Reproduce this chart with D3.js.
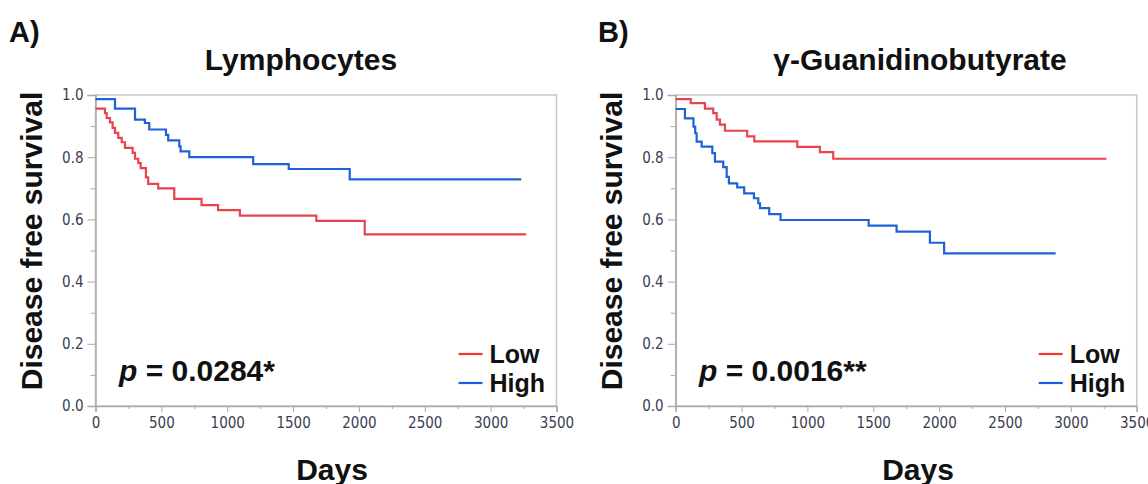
<!DOCTYPE html>
<html>
<head>
<meta charset="utf-8">
<script src="https://cdn.jsdelivr.net/npm/d3@7"></script>
<style>
    body { margin: 0; background: #fff; }
    .tick text { font-family: "DejaVu Sans Condensed", "DejaVu Sans", sans-serif; font-size: 15px; fill: #3a3d52; }
    .bold { font-family: "Liberation Sans", Arial, sans-serif; font-weight: bold; fill: #111; }
</style>
</head>
<body>
<div id="chart"></div>
<script>
// Kaplan-Meier steps: time of each step (days) and survival after it
var lymphLowDays  = [0, 72, 85, 110, 130, 148, 173, 199, 224, 282, 300, 325, 343, 383, 400, 476, 598, 805, 931, 1096, 1677, 2044, 3270];
var lymphLowSurv  = [0.956, 0.942, 0.926, 0.912, 0.894, 0.878, 0.862, 0.848, 0.830, 0.814, 0.795, 0.781, 0.765, 0.735, 0.714, 0.700, 0.666, 0.646, 0.630, 0.612, 0.595, 0.552, 0.552];
var lymphHighDays = [0, 148, 300, 375, 408, 535, 552, 636, 646, 712, 1197, 1467, 1930, 3232];
var lymphHighSurv = [0.987, 0.956, 0.921, 0.910, 0.889, 0.872, 0.854, 0.835, 0.819, 0.800, 0.778, 0.762, 0.729, 0.729];

var gbLowDays  = [0, 114, 222, 285, 311, 336, 374, 543, 597, 923, 1095, 1196, 3270];
var gbLowSurv  = [0.987, 0.974, 0.956, 0.942, 0.921, 0.905, 0.885, 0.867, 0.851, 0.833, 0.816, 0.795, 0.795];
var gbHighDays = [0, 70, 135, 148, 159, 197, 278, 298, 361, 387, 404, 467, 520, 594, 627, 640, 710, 796, 1465, 1677, 1930, 2038, 2885];
var gbHighSurv = [0.955, 0.925, 0.898, 0.877, 0.850, 0.834, 0.813, 0.786, 0.768, 0.737, 0.716, 0.703, 0.684, 0.668, 0.652, 0.636, 0.617, 0.598, 0.580, 0.561, 0.525, 0.491, 0.491];

var xTicks = [0, 500, 1000, 1500, 2000, 2500, 3000, 3500];
var yTicks = [0.0, 0.2, 0.4, 0.6, 0.8, 1.0];
var groups = ["Low", "High"];
var colors = { Low: "#e8434f", High: "#1f62d8" };

var width = 1148, height = 484;

var svg = d3.select("#chart")
    .append("svg")
    .attr("width", width)
    .attr("height", height);

svg.append("rect").attr("width", width).attr("height", height).attr("fill", "#fff");

function zip(days, surv) {
    return days.map((d, i) => ({ t: d, s: surv[i] }));
}

var panels = [
    {
        left: 95.5, letter: "A)", letterX: 9, title: "Lymphocytes", titleX: 301,
        pText: "0.0284*", pX: 119, labelX: 42, daysX: 332,
        series: { Low: zip(lymphLowDays, lymphLowSurv), High: zip(lymphHighDays, lymphHighSurv) }
    },
    {
        left: 675.7, letter: "B)", letterX: 598, title: "γ-Guanidinobutyrate", titleX: 920,
        pText: "0.0016**", pX: 699, labelX: 622, daysX: 918,
        series: { Low: zip(gbLowDays, gbLowSurv), High: zip(gbHighDays, gbHighSurv) }
    }
];

panels.forEach(function(p) {
    var top = 95, bottom = 406, plotW = 461;
    var x = d3.scaleLinear().domain([0, 3500]).range([p.left, p.left + plotW]);
    var y = d3.scaleLinear().domain([0, 1]).range([bottom, top]);

    // frame
    svg.append("rect")
        .attr("x", p.left).attr("y", top)
        .attr("width", plotW).attr("height", bottom - top)
        .attr("fill", "none").attr("stroke", "#c6c6c6").attr("stroke-width", 1.5);

    // minor ticks
    svg.append("g")
        .attr("transform", "translate(" + p.left + ",0)")
        .call(d3.axisLeft(y).tickValues(d3.range(0.1, 1, 0.2)).tickSize(5).tickFormat(""))
        .call(g => g.select(".domain").remove())
        .call(g => g.selectAll("line").attr("stroke", "#aaa"));
    svg.append("g")
        .attr("transform", "translate(0," + bottom + ")")
        .call(d3.axisBottom(x).tickValues(d3.range(250, 3500, 500)).tickSize(3).tickFormat(""))
        .call(g => g.select(".domain").remove())
        .call(g => g.selectAll("line").attr("stroke", "#aaa"));

    var yAxis = svg.append("g")
        .attr("transform", "translate(" + p.left + ",0)")
        .call(d3.axisLeft(y).tickValues(yTicks).tickSize(8).tickPadding(4).tickFormat(d3.format(".1f")));
    var xAxis = svg.append("g")
        .attr("transform", "translate(0," + bottom + ")")
        .call(d3.axisBottom(x).tickValues(xTicks).tickSize(6).tickPadding(5).tickFormat(d3.format("d")));
    [yAxis, xAxis].forEach(function(a) {
        a.select(".domain").attr("stroke", "#aaa").attr("stroke-width", 1.5);
        a.selectAll(".tick line").attr("stroke", "#aaa");
        a.attr("font-family", null).attr("font-size", null);
    });

    // survival curves
    var line = d3.line()
        .x(d => x(d.t))
        .y(d => y(d.s))
        .curve(d3.curveStepAfter);
    groups.forEach(function(gName) {
        svg.append("path")
            .datum(p.series[gName])
            .attr("fill", "none")
            .attr("stroke", colors[gName])
            .attr("stroke-width", 2.2)
            .attr("d", line);
    });

    // texts
    svg.append("text").attr("class", "bold")
        .attr("x", p.letterX).attr("y", 42)
        .attr("font-size", 29).text(p.letter);
    svg.append("text").attr("class", "bold")
        .attr("x", p.titleX).attr("y", 70)
        .attr("text-anchor", "middle")
        .attr("font-size", 30).text(p.title);
    svg.append("text").attr("class", "bold")
        .attr("transform", "translate(" + p.labelX + ",241) rotate(-90)")
        .attr("text-anchor", "middle")
        .attr("font-size", 30).text("Disease free survival");
    svg.append("text").attr("class", "bold")
        .attr("x", p.daysX).attr("y", 480)
        .attr("text-anchor", "middle")
        .attr("font-size", 30).text("Days");

    var pt = svg.append("text").attr("class", "bold")
        .attr("x", p.pX).attr("y", 381)
        .attr("font-size", 30);
    pt.append("tspan").attr("font-style", "italic").text("p");
    pt.append("tspan").text(" = " + p.pText);

    // legend
    var lg = svg.append("g")
        .attr("transform", "translate(" + (p.left + 363) + ",354)");
    groups.forEach(function(gName, i) {
        lg.append("line")
            .attr("x1", 0).attr("x2", 24)
            .attr("y1", i * 29).attr("y2", i * 29)
            .attr("stroke", gName === "Low" ? "#f5342e" : "#1a5fe0")
            .attr("stroke-width", 2.2);
        lg.append("text").attr("class", "bold")
            .attr("x", 31).attr("y", i * 29 + 9)
            .attr("font-size", 25)
            .text(gName);
    });
});
</script>
</body>
</html>
